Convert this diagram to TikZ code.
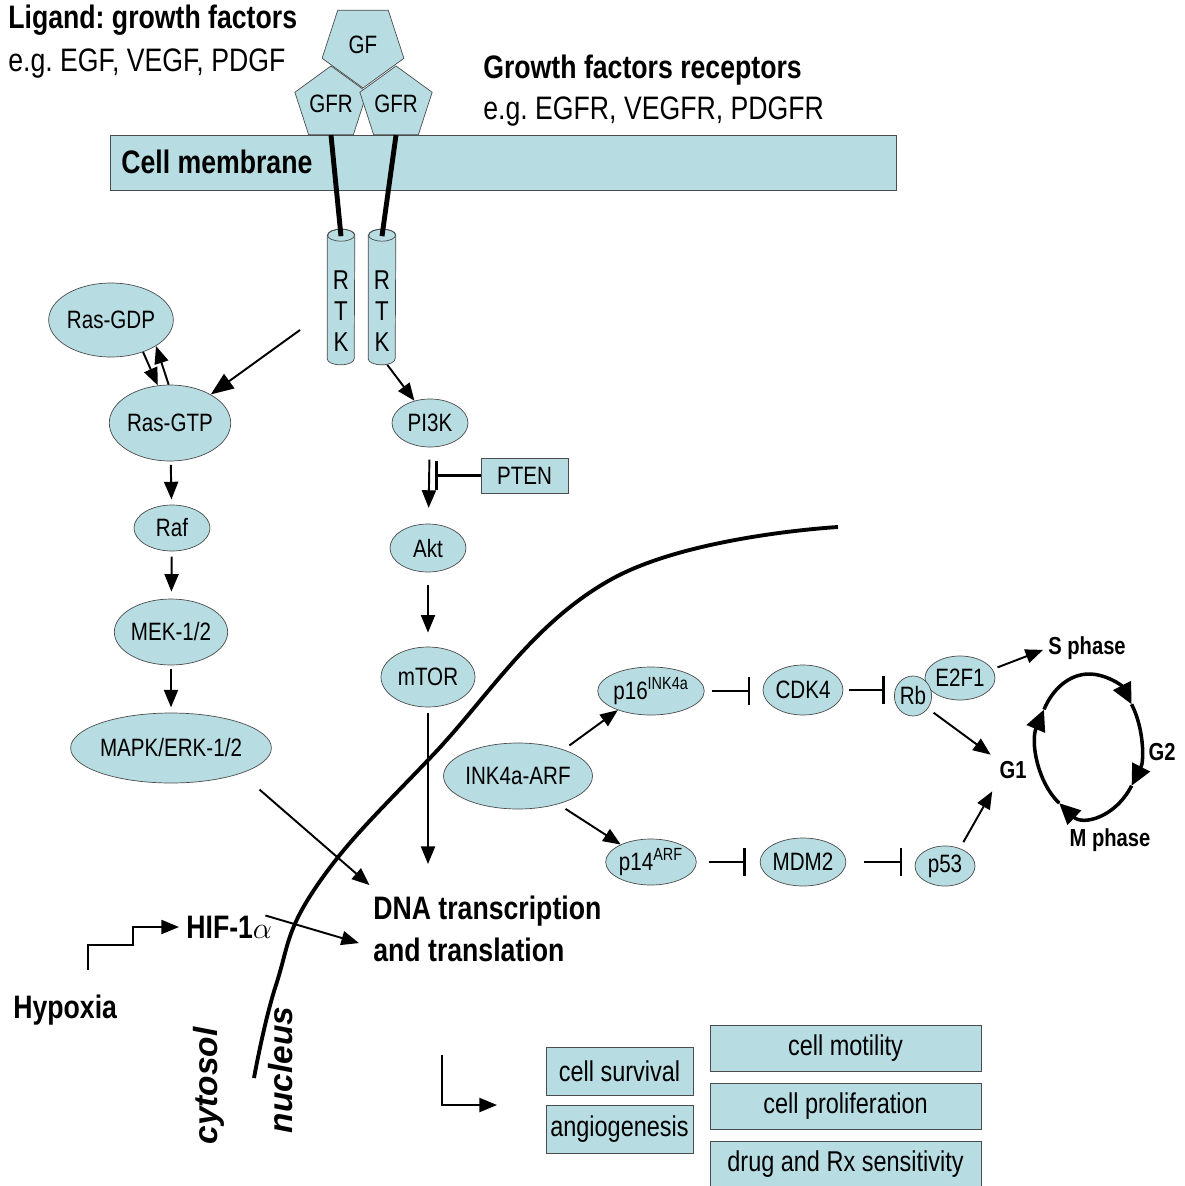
\documentclass[tikz,border=0pt]{standalone}
\usepackage{fontspec}
\setmainfont[FakeStretch=0.82]{Liberation Sans}
\newfontfamily\widesans{Liberation Sans}
\usetikzlibrary{shapes.geometric,arrows.meta,calc,positioning}
\definecolor{cellblue}{RGB}{183,221,227}
\newcommand\bigfont{\fontsize{18.5}{24}\selectfont}
\newcommand\molfont{\fontsize{14.3}{16}\selectfont}
\newcommand\boxfont{\fontsize{16.3}{18}\selectfont}
\frenchspacing
\tikzset{
  mol/.style={ellipse, draw=black!70, fill=cellblue, inner sep=0pt, font=\molfont},
  outcome/.style={rectangle, draw=black!70, fill=cellblue, inner sep=0pt, font=\boxfont},
  pent/.style={regular polygon, regular polygon sides=5, draw=black!70, fill=cellblue, inner sep=0pt, minimum size=1.48cm, font=\molfont},
  rtk/.style={rectangle, minimum width=0.54cm, minimum height=2.7cm, inner sep=0pt},
  tube/.style={draw=black!70, fill=cellblue},
  rtktext/.style={inner sep=0pt, align=center, font=\fontsize{15.5}{17.6}\selectfont},
  headline/.style={font=\bigfont\bfseries, inner sep=0pt, anchor=west},
  note/.style={font=\bigfont, inner sep=0pt, anchor=west},
  phase/.style={font=\fontsize{14}{16}\selectfont\bfseries, inner sep=0pt},
  side/.style={rotate=90, inner sep=0pt, font={\widesans\fontsize{19}{22}\selectfont\bfseries\itshape}},
  arr/.style={line width=1.1pt, -{Triangle[length=10pt,width=8pt]}},
  arrbig/.style={line width=1.1pt, -{Triangle[length=13pt,width=10pt]}},
  inh/.style={line width=1.6pt, -{Bar[width=16pt,line width=1.6pt]}},
  tether/.style={line width=2.8pt},
  ring/.style={line width=2pt, -{Triangle[length=12pt,width=11pt]}}
}
\begin{document}
\begin{tikzpicture}[x=0.02cm, y=-0.02cm]
    \useasboundingbox (0,0) rectangle (1184,1186);

    \node[headline] (ligand) at (8,20) {Ligand: growth factors};
    \node[note] (ligandeg) at (8,64) {e.g. EGF, VEGF, PDGF};
    \node[headline] (gfrtitle) at (483,70) {Growth factors receptors};
    \node[note] (gfreg) at (483,112) {e.g. EGFR, VEGFR, PDGFR};

    \node[rectangle, draw=black!70, fill=cellblue, minimum width=15.72cm, minimum height=1.1cm] (membrane) at (503,162.5) {};
    \node[headline] (memlabel) at (121,162) {Cell membrane};

    \node[pent, minimum size=1.72cm, shape border rotate=180] (gf) at (363,45) {GF};
    \node[pent] (gfrl) at (331,104) {GFR};
    \node[pent] (gfrr) at (396,104) {GFR};
    \node[rtk] (rtkl) at (341,297) {};
    \node[rtk] (rtkr) at (382,297) {};
    \foreach \t in {rtkl, rtkr} {
        \draw[tube] ([yshift=-0.12cm]\t.north west) -- ([yshift=0.12cm]\t.south west)
            arc[start angle=180, end angle=360, x radius=0.27cm, y radius=0.12cm]
            -- ([yshift=-0.12cm]\t.north east)
            arc[start angle=0, end angle=180, x radius=0.27cm, y radius=0.12cm] -- cycle;
        \draw[black!70] ([yshift=-0.12cm]\t.north) ellipse [x radius=0.27cm, y radius=0.12cm];
    }
    \node[rtktext] (rtkltext) at (341,311) {R\\T\\K};
    \node[rtktext] (rtkrtext) at (382,311) {R\\T\\K};
    \draw[tether] (gfrl.south) -- ([yshift=-4pt]rtkl.north);
    \draw[tether] (gfrr.south) -- ([yshift=-4pt]rtkr.north);

    \node[mol, minimum width=2.2cm, minimum height=1.48cm] (rasgdp) at (111,320) {Ras-GDP};
    \node[mol, minimum width=2.12cm, minimum height=1.52cm] (rasgtp) at (170,423) {Ras-GTP};
    \node[mol, minimum width=1.52cm, minimum height=0.92cm] (raf) at (172,528) {Raf};
    \node[mol, minimum width=2cm, minimum height=1.32cm] (mek) at (171,632) {MEK-1/2};
    \node[mol, minimum width=3.88cm, minimum height=1.4cm] (mapk) at (171,748) {MAPK/ERK-1/2};
    \node[mol, minimum width=1.52cm, minimum height=0.96cm] (pi3k) at (430,423) {PI3K};
    \node[rectangle, draw=black!70, fill=cellblue, font=\molfont, minimum width=1.74cm, minimum height=0.7cm] (pten) at (524.5,475.5) {PTEN};
    \node[mol, minimum width=1.52cm, minimum height=0.96cm] (akt) at (428,548) {Akt};
    \node[mol, minimum width=1.88cm, minimum height=1.2cm] (mtor) at (428,677) {mTOR};

    \coordinate (rtkpoint) at (300,330);
    \draw[arrbig] (rtkpoint) -- (rasgtp.35);
    \draw[arr] ([xshift=3pt]rtkr.south) -- (pi3k.125);
    \draw[arr] (rasgdp.-45) -- (rasgtp.108);
    \draw[arr] (rasgtp.92) -- (rasgdp.-30);
    \draw[arr, shorten <=2pt, shorten >=3pt] (rasgtp) -- (raf);
    \draw[arr, shorten <=3pt, shorten >=4pt] (raf) -- (mek);
    \draw[arr, shorten <=2pt, shorten >=3pt] (mek) -- (mapk);
    \draw[arr, shorten <=7pt, shorten >=9pt] (pi3k) -- (akt);
    \draw[inh] (pten.west) -- ([xshift=4pt]pten.west -| akt.north);
    \draw[arr, shorten <=7pt, shorten >=8pt] (akt) -- (mtor);

    \draw[line width=2.2pt] plot[smooth, tension=0.7] coordinates {(254,1078) (276,985) (316,887) (431,757) (610,580) (838,527)};
    \node[side] (cytosol) at (209,1086) {cytosol};
    \node[side] (nucleus) at (281,1070) {nucleus};

    \node[font=\bigfont\bfseries, inner sep=0pt, anchor=west, align=left] (dna) at (373,929) {DNA transcription\\and translation};
    \node[headline] (hif) at (186,927) {HIF-1$\alpha$};
    \node[headline] (hypoxia) at (13,1010) {Hypoxia};
    \coordinate (hypstart) at (88,970);
    \draw[arr] (hypstart) |- (133,945) |- ([xshift=-4pt]hif.west);
    \draw[arr] ([xshift=-4pt]hif.north east) -- ([xshift=-8pt,yshift=-8pt]dna.west);
    \draw[arr, shorten <=14pt] (mapk.-20) -- ([xshift=-2pt,yshift=6pt]dna.north west);
    \coordinate (dnatop) at (428,864);
    \draw[arr, shorten <=3pt] (mtor) -- (dnatop);

    \node[mol, minimum width=2.6cm, minimum height=1.32cm] (ink) at (518,776) {INK4a-ARF};
    \node[mol, minimum width=1.84cm, minimum height=0.96cm] (pxvi) at (651,691) {p16\textsuperscript{INK4a}};
    \node[mol, minimum width=1.6cm, minimum height=0.92cm] (pxiv) at (651,862) {p14\textsuperscript{ARF}};
    \node[mol, minimum width=1.6cm, minimum height=1cm] (cdk) at (803,690) {CDK4};
    \node[mol, minimum width=1.6cm, minimum height=0.96cm] (mdm) at (803,862) {MDM2};
    \node[mol, minimum width=1.4cm, minimum height=0.88cm] (etf) at (960,678) {E2F1};
    \node[mol, minimum width=0.6cm, minimum height=0.8cm] (rb) at (913,696) {Rb};
    \node[mol, minimum width=1.2cm, minimum height=0.8cm] (pliii) at (945,866) {p53};

    \draw[arr, shorten <=4pt] (ink.30) -- (pxvi.-150);
    \draw[arr, shorten <=5pt] (ink.-35) -- (pxiv.150);
    \draw[inh, shorten <=4pt, shorten >=7pt] (pxvi.east) -- (pxvi.east -| cdk.west);
    \draw[inh, shorten <=3pt, shorten >=5pt] (cdk.east) -- (cdk.east -| rb.west);
    \draw[inh, shorten <=7pt, shorten >=8pt] (pxiv.east) -- (pxiv.east -| mdm.west);
    \draw[inh, shorten <=10pt, shorten >=7pt] (mdm.east) -- (mdm.east -| pliii.west);

    \node[phase, anchor=west] (sphase) at (1048,648) {S phase};
    \node[phase] (gone) at (1013,770) {G1};
    \node[phase] (gtwo) at (1162,752) {G2};
    \node[phase] (mphase) at (1110,840) {M phase};
    \draw[arr, shorten <=3pt, shorten >=3pt] (etf.15) -- (sphase.west);
    \draw[arr, shorten <=4pt, shorten >=6pt] (rb.-40) -- (gone.north west);
    \draw[arr, shorten <=4pt, shorten >=8pt] (pliii.50) -- (gone.south west);

    \coordinate (cyc) at (1089,745);
    \foreach \a/\b in {150/35, 35/-35, -35/-125, -125/-210}
        \draw[ring] ($(cyc)+(\a:1.04cm and 1.42cm)$) arc[start angle=\a, end angle=\b, x radius=1.04cm, y radius=1.42cm];

    \node[outcome, minimum width=2.94cm, minimum height=0.96cm] (surv) at (619.5,1071) {cell survival};
    \node[outcome, minimum width=2.94cm, minimum height=0.96cm] (angio) at (619.5,1129) {angiogenesis};
    \node[outcome, minimum width=5.42cm, minimum height=0.92cm] (motil) at (845.5,1048) {cell motility};
    \node[outcome, minimum width=5.42cm, minimum height=0.92cm] (prolif) at (845.5,1106) {cell proliferation};
    \node[outcome, minimum width=5.42cm, minimum height=0.92cm] (drug) at (845.5,1164) {drug and Rx sensitivity};
    \coordinate (outstart) at (442,1055);
    \coordinate (outend) at (497,1105);
    \draw[arr] (outstart) |- (outend);

    \end{tikzpicture}
\end{document}
